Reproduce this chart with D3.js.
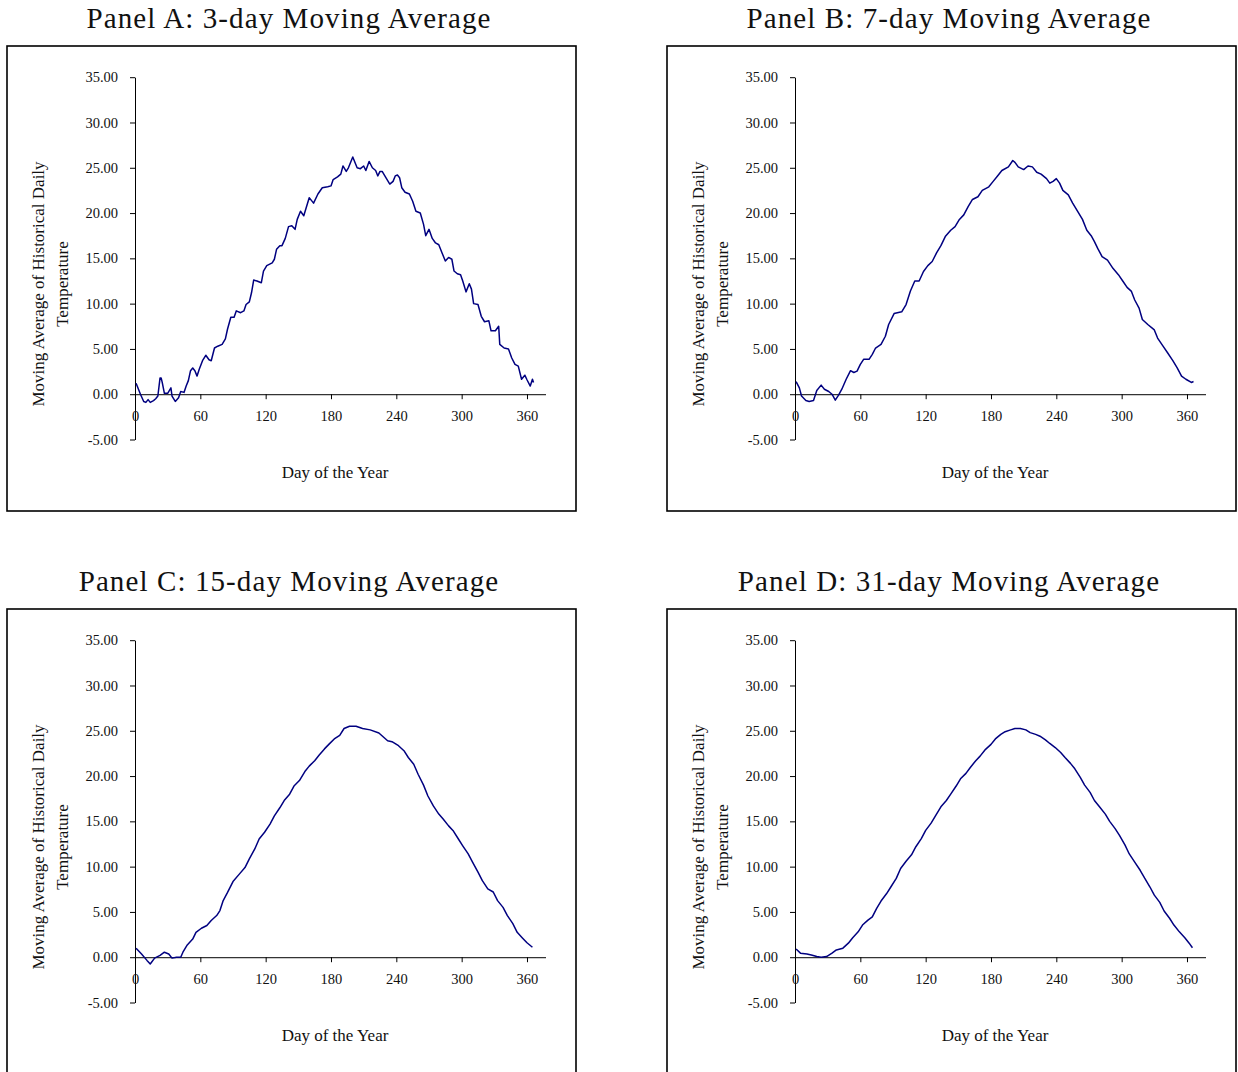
<!DOCTYPE html>
<html>
<head>
<meta charset="utf-8">
<script src="https://cdn.jsdelivr.net/npm/d3@7"></script>
<style>
  body { margin: 0; background: #fff; }
  svg { display: block; }
  .tick text { font-family: "Liberation Serif", "Times New Roman", serif; font-size: 14.5px; fill: #111; }
</style>
</head>
<body>
<svg width="1238" height="1072"></svg>
<script>
// values (day of year, moving average temperature)
const daysA = [1,3,5,8,10,12,14,17,19,21,23,24,25,27,30,33,34,37,40,42,45,47,49,51,53,55,57,59,62,65,68,70,73,76,80,83,85,88,91,93,97,100,102,105,107,109,112,116,118,121,126,128,130,133,135,138,141,144,147,149,152,155,160,162,164,168,172,177,180,182,186,189,191,194,196,200,204,207,210,212,215,218,221,223,225,227,230,234,237,239,241,243,245,248,252,255,258,262,265,267,270,273,276,279,282,285,288,291,293,296,299,301,304,307,309,311,315,318,321,325,327,331,334,335,339,343,346,349,352,355,358,360,363,365,366];
const tempA = [1.2,0.6,0.0,-0.8,-0.9,-0.6,-0.9,-0.7,-0.5,-0.2,1.8,1.8,1.3,0.1,0.1,0.7,-0.2,-0.8,-0.4,0.3,0.2,0.9,1.5,2.6,2.9,2.6,2.0,2.75,3.7,4.3,3.8,3.7,5.1,5.3,5.5,6.1,7.2,8.5,8.5,9.2,9.0,9.2,9.9,10.2,11.2,12.6,12.5,12.3,13.6,14.2,14.5,14.9,16.0,16.4,16.4,17.2,18.5,18.6,18.2,19.3,20.2,19.7,21.7,21.4,21.1,22.1,22.8,22.9,23.0,23.7,24.0,24.3,25.2,24.6,25.0,26.2,25.0,24.9,25.2,24.7,25.7,25.0,24.7,24.1,24.6,24.6,24.0,23.2,23.5,24.1,24.2,23.9,22.8,22.3,22.1,21.3,20.2,20.0,18.75,17.5,18.2,17.2,16.7,16.5,15.6,14.7,15.1,14.9,13.6,13.3,13.2,12.5,11.3,12.2,11.6,10.0,9.9,8.6,8.0,8.1,7.0,7.0,7.5,5.5,5.1,5.0,4.0,3.3,3.1,1.65,2.1,1.6,0.9,1.65,1.3];

const daysB = [1,4,6,10,13,17,20,24,27,31,34,37,40,43,47,51,54,57,60,63,68,71,74,79,83,86,91,98,102,106,110,114,118,122,126,130,134,138,143,147,151,155,159,163,168,172,178,182,186,190,196,200,202,205,210,214,218,222,226,231,234,237,240,243,246,251,255,260,264,268,272,275,278,282,287,292,297,301,305,309,312,316,319,324,330,333,338,342,347,351,355,359,364,366];
const tempB = [1.4,0.7,-0.2,-0.7,-0.8,-0.7,0.4,1.0,0.55,0.3,0.0,-0.65,-0.1,0.55,1.65,2.6,2.4,2.55,3.3,3.85,3.85,4.4,5.1,5.5,6.4,7.7,8.9,9.1,9.9,11.4,12.5,12.5,13.55,14.2,14.65,15.6,16.4,17.4,18.1,18.5,19.3,19.8,20.7,21.5,21.8,22.5,22.9,23.5,24.1,24.7,25.1,25.8,25.6,25.1,24.8,25.2,25.1,24.5,24.3,23.8,23.3,23.5,23.8,23.3,22.5,22.0,21.1,20.1,19.3,18.1,17.5,16.85,16.1,15.2,14.8,13.9,13.2,12.5,11.8,11.35,10.4,9.5,8.25,7.7,7.1,6.2,5.3,4.6,3.7,2.9,2.0,1.65,1.3,1.4];

const daysC = [1,6,11,14,18,23,27,31,34,38,42,44,48,53,56,61,66,70,75,78,81,85,90,96,101,105,110,114,119,124,128,133,137,142,146,151,156,160,165,169,174,178,183,188,192,197,203,209,216,224,232,236,242,247,251,256,260,265,269,274,279,283,288,292,297,301,306,310,315,319,324,329,333,338,342,347,351,356,360,365];
const tempC = [1.0,0.35,-0.35,-0.75,-0.1,0.2,0.55,0.35,-0.1,0.0,0.0,0.55,1.35,2.0,2.75,3.2,3.5,4.05,4.6,5.15,6.25,7.15,8.35,9.2,9.9,10.85,11.95,13.05,13.8,14.7,15.6,16.5,17.3,18.0,18.9,19.5,20.5,21.1,21.7,22.3,23.0,23.5,24.1,24.5,25.25,25.5,25.5,25.25,25.1,24.75,23.9,23.8,23.35,22.8,22.05,21.3,20.2,19.0,17.8,16.7,15.8,15.25,14.5,14.0,13.05,12.3,11.4,10.5,9.4,8.45,7.55,7.2,6.25,5.5,4.6,3.7,2.75,2.1,1.6,1.1];

const daysD = [1,5,11,15,20,24,29,34,38,44,49,53,58,62,67,71,75,79,84,88,93,97,102,107,111,116,120,125,129,134,139,143,148,152,157,161,166,170,175,180,184,189,193,198,202,207,212,216,221,225,230,234,239,244,248,253,257,262,266,271,275,280,285,289,294,298,303,307,312,317,321,326,330,335,339,344,348,353,358,362,365];
const tempD = [0.9,0.45,0.35,0.25,0.07,0.0,0.07,0.45,0.8,1.0,1.55,2.15,2.8,3.55,4.1,4.45,5.4,6.2,7.0,7.75,8.7,9.8,10.6,11.3,12.2,13.1,14.0,14.8,15.6,16.6,17.3,18.0,18.9,19.7,20.3,20.95,21.7,22.2,22.95,23.5,24.1,24.6,24.9,25.1,25.25,25.25,25.1,24.8,24.6,24.4,24.0,23.6,23.15,22.6,22.05,21.4,20.8,19.85,19.0,18.2,17.3,16.55,15.8,15.0,14.2,13.45,12.4,11.4,10.5,9.6,8.75,7.75,6.85,6.05,5.1,4.3,3.55,2.8,2.15,1.55,1.05];

const xTicks = [0, 60, 120, 180, 240, 300, 360];
const yTicks = [-5, 0, 5, 10, 15, 20, 25, 30, 35];
const panelTitles = [
  'Panel A: 3-day Moving Average',
  'Panel B: 7-day Moving Average',
  'Panel C: 15-day Moving Average',
  'Panel D: 31-day Moving Average'
];
const yTitle = ['Moving Average of Historical Daily', 'Temperature'];
const xTitle = 'Day of the Year';

const svg = d3.select('svg');
svg.append('rect').attr('width', 1238).attr('height', 1072).attr('fill', '#fff');

const serif = '"Liberation Serif", "Times New Roman", serif';
const boxW = 569, boxH = 465;
const origins = [[7, 46], [667, 46], [7, 609], [667, 609]];

// same scales inside every panel box
const x = d3.scaleLinear().domain([0, 377]).range([128, 538.5]);
const y = d3.scaleLinear().domain([-5, 35]).range([393.5, 31.2]);

const line = d3.line()
  .x(d => x(d[0]))
  .y(d => y(d[1]));

function drawPanel(i, days, temps) {
  const [ox, oy] = origins[i];

  svg.append('text')
    .attr('x', ox + 282)
    .attr('y', oy - 18)
    .attr('text-anchor', 'middle')
    .style('font-family', serif)
    .style('font-size', '29px')
    .style('letter-spacing', '1.1px')
    .attr('fill', '#111')
    .text(panelTitles[i]);

  const g = svg.append('g').attr('transform', `translate(${ox},${oy})`);

  g.append('rect')
    .attr('x', 0).attr('y', 0)
    .attr('width', boxW).attr('height', boxH)
    .attr('fill', 'none')
    .attr('stroke', '#000')
    .attr('stroke-width', 1.6);

  const yAxis = d3.axisLeft(y)
    .tickValues(yTicks)
    .tickFormat(d => d.toFixed(2))
    .tickSize(5)
    .tickSizeOuter(0)
    .tickPadding(12);

  g.append('g')
    .attr('transform', `translate(${x(0)},0)`)
    .call(yAxis);

  const xAxis = d3.axisBottom(x)
    .tickValues(xTicks)
    .tickFormat(d => String(d))
    .tickSize(5)
    .tickSizeOuter(0)
    .tickPadding(12);

  g.append('g')
    .attr('transform', `translate(0,${y(0)})`)
    .call(xAxis);

  g.selectAll('.domain, .tick line').attr('stroke', '#000').attr('stroke-width', 1);

  yTitle.forEach((t, k) => {
    g.append('text')
      .attr('transform', `translate(${31 + k * 24},238) rotate(-90)`)
      .attr('text-anchor', 'middle')
      .attr('dy', '0.35em')
      .style('font-family', serif)
      .style('font-size', '17px')
      .attr('fill', '#111')
      .text(t);
  });

  g.append('text')
    .attr('x', 328)
    .attr('y', 432)
    .attr('text-anchor', 'middle')
    .style('font-family', serif)
    .style('font-size', '17px')
    .attr('fill', '#111')
    .text(xTitle);

  g.append('path')
    .datum(d3.zip(days, temps))
    .attr('d', line)
    .attr('fill', 'none')
    .attr('stroke', '#000080')
    .attr('stroke-width', 1.5)
    .attr('stroke-linejoin', 'round');
}

drawPanel(0, daysA, tempA);
drawPanel(1, daysB, tempB);
drawPanel(2, daysC, tempC);
drawPanel(3, daysD, tempD);
</script>
</body>
</html>
